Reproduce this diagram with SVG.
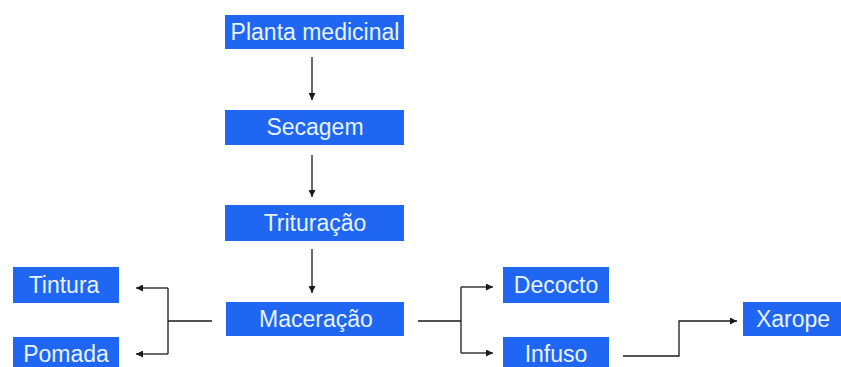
<svg xmlns="http://www.w3.org/2000/svg" width="841" height="367" viewBox="0 0 841 367">
<style>
.box{fill:#1f66f2}
.lbl{font-family:"Liberation Sans",Arial,sans-serif;font-size:23px;fill:#e8f3ff;text-anchor:middle}
.ln{fill:none;stroke:#1a1a1a;stroke-width:1.3}
</style>
<defs>
<marker id="ah" viewBox="0 0 10 10" refX="10" refY="5" markerWidth="7" markerHeight="7" markerUnits="userSpaceOnUse" orient="auto">
<path d="M0,0 L10,5 L0,10 z" fill="#1a1a1a"/>
</marker>
</defs>
<rect width="841" height="367" fill="#ffffff"/>
<g id="connectors">
<path class="ln" d="M312,57 V100" marker-end="url(#ah)"/>
<path class="ln" d="M312,155 V197" marker-end="url(#ah)"/>
<path class="ln" d="M312,249 V293" marker-end="url(#ah)"/>
<path class="ln" d="M212,321 H168"/>
<path class="ln" d="M168,288 V354"/>
<path class="ln" d="M168,288 H136" marker-end="url(#ah)"/>
<path class="ln" d="M168,354 H136" marker-end="url(#ah)"/>
<path class="ln" d="M418,321 H461"/>
<path class="ln" d="M461,287 V353"/>
<path class="ln" d="M461,287 H493" marker-end="url(#ah)"/>
<path class="ln" d="M461,353 H493" marker-end="url(#ah)"/>
<path class="ln" d="M623,356 H679 V321 H737" marker-end="url(#ah)"/>
</g>
<g id="planta">
<rect class="box" x="225" y="15" width="179" height="34"/>
<text class="lbl" x="315" y="40">Planta medicinal</text>
</g>
<g id="secagem">
<rect class="box" x="225" y="110" width="179" height="35"/>
<text class="lbl" x="315" y="135">Secagem</text>
</g>
<g id="trituracao">
<rect class="box" x="225" y="205" width="179" height="36"/>
<text class="lbl" x="315" y="231">Trituração</text>
</g>
<g id="maceracao">
<rect class="box" x="226" y="302" width="178" height="34"/>
<text class="lbl" x="316" y="327">Maceração</text>
</g>
<g id="tintura">
<rect class="box" x="13" y="267" width="106" height="36"/>
<text class="lbl" x="64" y="293">Tintura</text>
</g>
<g id="pomada">
<rect class="box" x="13" y="337" width="106" height="36"/>
<text class="lbl" x="66" y="362">Pomada</text>
</g>
<g id="decocto">
<rect class="box" x="503" y="267" width="106" height="36"/>
<text class="lbl" x="556" y="293">Decocto</text>
</g>
<g id="infuso">
<rect class="box" x="503" y="337" width="106" height="36"/>
<text class="lbl" x="556" y="362">Infuso</text>
</g>
<g id="xarope">
<rect class="box" x="743" y="302" width="98" height="34"/>
<text class="lbl" x="793" y="327">Xarope</text>
</g>
</svg>
